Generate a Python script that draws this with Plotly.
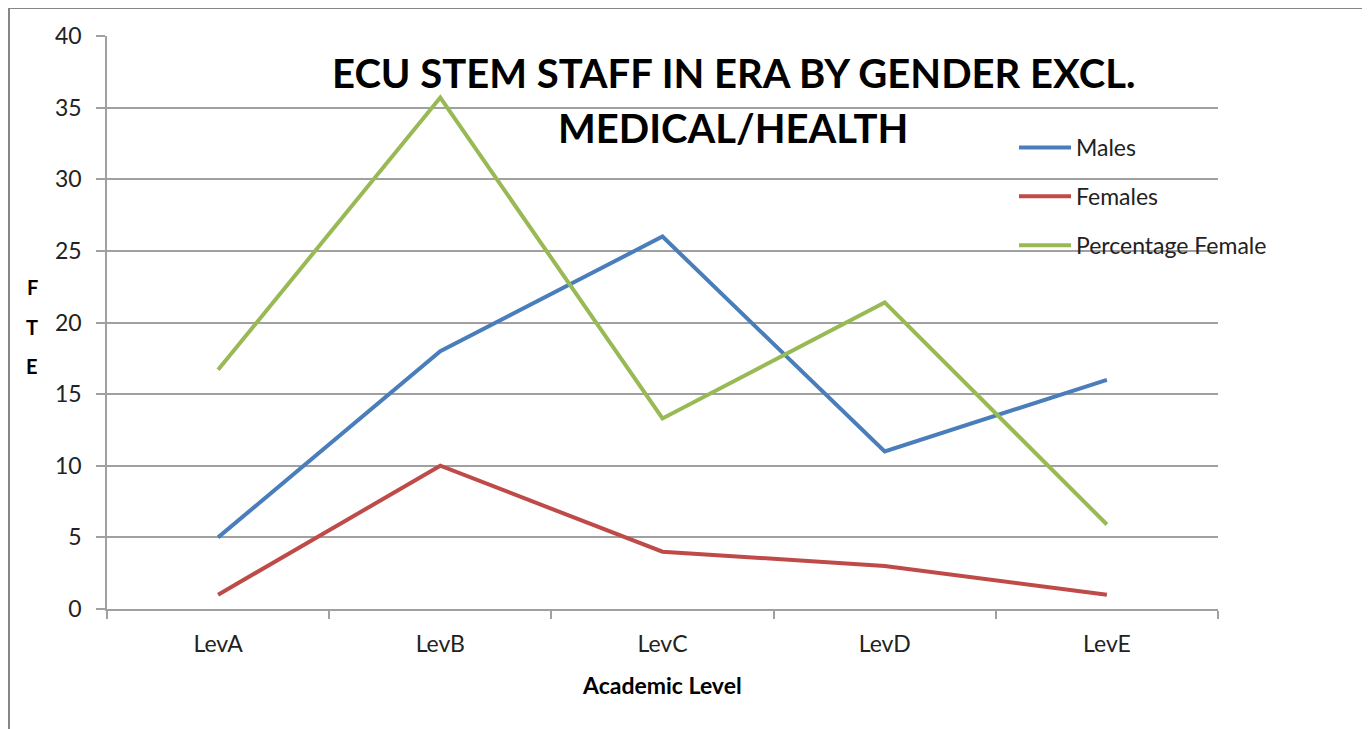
import plotly.graph_objects as go

levels = ["LevA", "LevB", "LevC", "LevD", "LevE"]
males = [5, 18, 26, 11, 16]
females = [1, 10, 4, 3, 1]
pct_female = [16.7, 35.7, 13.3, 21.4, 5.9]

series_names = ["Males", "Females", "Percentage Female"]
series_colors = ["#4A7EBB", "#BE4B48", "#98B954"]
y_ticks = [0, 5, 10, 15, 20, 25, 30, 35, 40]

FONT = "Lato, Carlito, Open Sans, sans-serif"

fig = go.Figure()
for i, (name, vals, col) in enumerate(zip(series_names, [males, females, pct_female], series_colors)):
    fig.add_trace(go.Scatter(
        x=levels, y=vals, name=name, mode="lines",
        line=dict(color=col, width=4), legendgroup=f"g{i}",
    ))

# page body has an 8px margin: figure origin sits at (8, 8) in the window
OFF = 8
W, H = 1362, 721
L, R, T, B = 99, 152, 28, 120
pw, ph = W - L - R, H - T - B

def px(x):
    return (x - OFF - L) / pw

def py(y):
    return (H - B - (y - OFF)) / ph

fig.update_layout(
    width=W, height=H,
    margin=dict(l=L, r=R, t=T, b=B),
    paper_bgcolor="white", plot_bgcolor="white",
    font=dict(family=FONT, color="#222222", size=23),
    showlegend=True,
    legend=dict(
        x=px(1014), y=py(126), xanchor="left", yanchor="top",
        bgcolor="rgba(0,0,0,0)", font=dict(size=23, family=FONT, color="#222222"),
        tracegroupgap=16, traceorder="grouped", itemwidth=52,
    ),
    xaxis=dict(
        type="category", range=[-0.5, 4.5], showgrid=False, showline=True,
        linecolor="#A0A0A0", linewidth=2,
        ticks="outside", tickson="boundaries", ticklen=8, tickcolor="#A0A0A0", tickwidth=1.5,
        ticklabelstandoff=13,
        tickfont=dict(size=23, family=FONT, color="#222222"), fixedrange=True,
    ),
    yaxis=dict(
        range=[0, 40], tickvals=y_ticks, showgrid=True, gridcolor="#A0A0A0", gridwidth=1.5,
        showline=True, linecolor="#A0A0A0", linewidth=1.5, zeroline=False,
        ticks="outside", ticklen=9, tickcolor="#A0A0A0", tickwidth=1.5,
        ticklabelstandoff=10,
        tickfont=dict(size=23, family=FONT, color="#222222"), fixedrange=True,
    ),
)

# outer chart border
fig.add_shape(type="rect", xref="paper", yref="paper",
              x0=px(9), x1=px(1364), y0=py(760), y1=py(8),
              line=dict(color="#868686", width=2), fillcolor="rgba(0,0,0,0)", layer="below")

# title
fig.add_annotation(xref="paper", yref="paper", x=px(733), y=py(73),
                   text="<b>ECU STEM STAFF IN ERA BY GENDER EXCL.</b>", showarrow=False,
                   font=dict(size=40, family=FONT, color="black"), xanchor="center", yanchor="middle")
fig.add_annotation(xref="paper", yref="paper", x=px(733), y=py(128),
                   text="<b>MEDICAL/HEALTH</b>", showarrow=False,
                   font=dict(size=40, family=FONT, color="black"), xanchor="center", yanchor="middle")

# y-axis title letters
for letter, yy in zip(["F", "T", "E"], [287, 327, 366]):
    fig.add_annotation(xref="paper", yref="paper", x=px(32), y=py(yy), text=f"<b>{letter}</b>",
                       showarrow=False, font=dict(size=20, family=FONT, color="black"),
                       xanchor="center", yanchor="middle")

# x-axis title
fig.add_annotation(xref="paper", yref="paper", x=px(662), y=py(685), text="<b>Academic Level</b>",
                   showarrow=False, font=dict(size=23, family=FONT, color="black"),
                   xanchor="center", yanchor="middle")

fig.write_html("out.html")
